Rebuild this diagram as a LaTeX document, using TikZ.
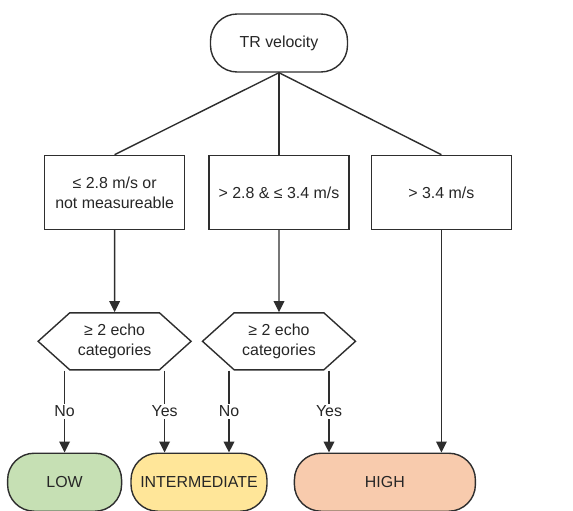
\documentclass[tikz,border=0pt]{standalone}
\usepackage{fontspec}
\setmainfont{Liberation Sans}
\usetikzlibrary{positioning,shapes.symbols,arrows.meta}

\definecolor{lowgreen}{HTML}{C6E0B4}
\definecolor{midyellow}{HTML}{FFE699}
\definecolor{highorange}{HTML}{F8CBAD}
\definecolor{edgegray}{HTML}{2E2E2E}

\begin{document}
\begin{tikzpicture}[node distance=2.46cm and 0.66cm]

\tikzstyle{basebox} = [draw=edgegray, line width=1.2pt, text=black!85, align=center, inner sep=0pt, font=\fontsize{13.6}{17}\selectfont]
\tikzstyle{pill} = [basebox, rounded corners=0.8cm, minimum height=1.74cm]
\tikzstyle{rangebox} = [basebox, minimum width=4.2cm, minimum height=2.22cm]
\tikzstyle{echobox} = [basebox, signal, signal to=west and east, signal pointer angle=84, minimum width=4.59cm, minimum height=1.71cm]
\tikzstyle{arrow} = [draw=edgegray, line width=1.2pt, -{Triangle[length=0.33cm, width=0.32cm]}]
\tikzstyle{branch} = [fill=white, inner sep=1.5pt, text=black!85, font=\fontsize{13.6}{15}\selectfont]

\useasboundingbox (0,0) rectangle (17.19,-15.33);

% Start
\node (velo) [pill, minimum width=4.11cm] at (8.37,-1.29) {TR velocity};

% Velocity ranges
\node (rangeB) [rangebox, below=of velo] {> 2.8 \& ≤ 3.4 m/s};
\node (rangeA) [rangebox, left=0.69cm of rangeB] {≤ 2.8 m/s or\\not measureable};
\node (rangeC) [rangebox, right=0.63cm of rangeB] {> 3.4 m/s};

% Echo checks
\node (echoA) [echobox, below=of rangeA] {≥ 2 echo\\categories};
\node (echoB) [echobox, below=of rangeB] {≥ 2 echo\\categories};

% Outcomes
\node (low) [pill, fill=lowgreen, minimum width=3.42cm, below=of echoA, xshift=-1.5cm] {LOW};
\node (inter) [pill, fill=midyellow, minimum width=4.08cm, right=0.24cm of low] {INTERMEDIATE};
\node (high) [pill, fill=highorange, minimum width=5.43cm, right=0.78cm of inter] {HIGH};

% Paths from start
\draw [draw=edgegray, line width=1.2pt] (velo.south) -- (rangeA.north);
\draw [draw=edgegray, line width=1.2pt] (velo.south) -- (rangeB.north);
\draw [draw=edgegray, line width=1.2pt] (velo.south) -- (rangeC.north);

% Paths to echo checks
\draw [arrow] (rangeA) -- (echoA);
\draw [arrow] (rangeB) -- (echoB);
\draw [arrow] (rangeC.south) -- (rangeC.south |- high.north);

% Paths to outcomes
\draw [arrow] ([xshift=-1.5cm]echoA.south) -- node[branch] {No} (low.north);
\draw [arrow] ([xshift=1.5cm]echoA.south) -- node[branch] {Yes} ([xshift=1.5cm]echoA.south |- inter.north);
\draw [arrow] ([xshift=-1.5cm]echoB.south) -- node[branch] {No} ([xshift=-1.5cm]echoB.south |- inter.north);
\draw [arrow] ([xshift=1.5cm]echoB.south) -- node[branch] {Yes} ([xshift=1.5cm]echoB.south |- high.north);

\end{tikzpicture}
\end{document}
